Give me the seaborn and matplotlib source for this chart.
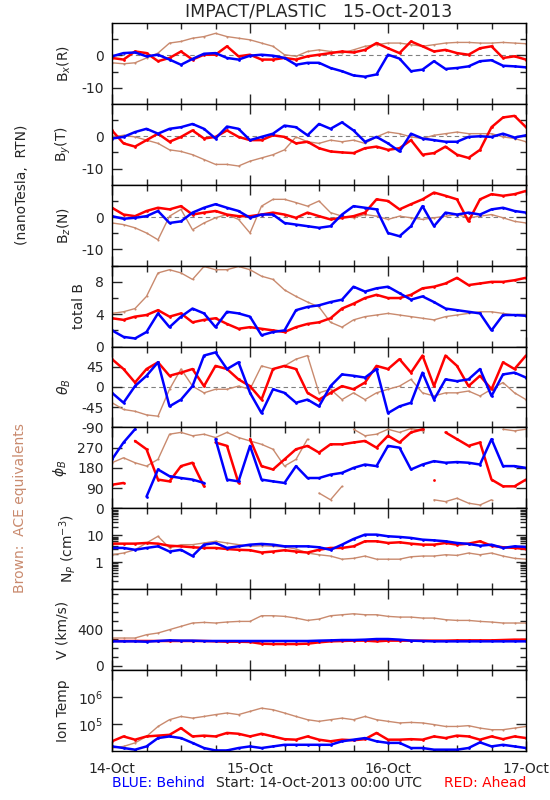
import matplotlib
matplotlib.use('Agg')
import numpy as np
import pandas as pd
import matplotlib.pyplot as plt
import seaborn as sns
from matplotlib.ticker import FixedLocator, NullFormatter, LogLocator

# hours since 14-Oct-2013 00:00, every 2 hours
hours = list(range(0, 73, 2))

# B_x (R), nT
bx_blue = [-0.3, 0.7, 0.9, -0.3, 0.2, -1.3, -2.9, -1.1, 0.5, 0.7, -0.8, -1.3, -0.1, 0.2, -0.1, -0.8, -2.9, -2.3, -2.3,
           -3.9, -4.9, -6.2, -6.6, -5.9, 0.2, -1.0, -4.9, -4.4, -1.8, -4.2, -3.9, -3.4, -1.8, -1.5, -3.2, -3.4, -3.7]
bx_red = [-0.8, -1.3, 1.2, 0.7, -1.8, -0.8, 1.2, -1.3, 0.2, 0.2, 2.8, -0.3, 0.2, -1.3, -1.3, -0.8, -1.3, -0.3, 0.2,
          0.7, 1.2, 0.9, 1.7, 3.8, 2.2, 0.7, 4.3, 2.8, 1.2, 1.7, 0.7, 0.2, 2.2, 2.8, -0.8, -0.3, -1.3]
bx_ace = [-2.3, -2.6, -2.3, -0.8, 0.7, 3.8, 4.3, 5.3, 5.8, 6.8, 5.8, 5.3, 4.8, 3.8, 2.8, 0.2, -0.3, 1.2, 1.7,
          1.2, 0.7, 1.7, 2.8, 3.3, 3.8, 3.8, 3.3, 2.8, 3.3, 3.8, 4.0, 4.0, 3.8, 3.8, 4.0, 3.8, 3.6]

# B_y (T), nT
by_blue = [-0.7, -0.2, 1.3, 2.3, 0.8, 2.3, 2.8, 3.8, 2.3, -0.7, 3.0, 2.3, -1.2, -0.2, 0.8, 3.3, 2.8, 0.3, 3.8,
           2.3, 4.3, 1.8, -1.7, -0.2, -2.2, -4.7, 0.8, -0.7, -1.2, -1.7, -1.7, -0.2, 0.0, -0.2, 0.8, -0.4, 0.3]
by_red = [1.8, -2.2, -3.2, -1.2, 0.8, -1.7, -0.2, 1.8, -0.7, -0.2, 1.8, -0.2, -1.2, -1.2, 0.3, -0.2, -2.2, -1.7, -3.7,
          -4.7, -5.0, -5.2, -3.7, -3.2, -4.2, -3.7, -1.2, -5.7, -5.2, -3.2, -5.7, -6.7, -4.2, 2.8, 5.8, 6.3, 2.8]
by_ace = [-0.2, 0.3, -0.2, -1.2, -2.2, -4.2, -4.7, -5.7, -7.2, -8.7, -8.7, -9.2, -7.7, -6.7, -5.7, -4.2, -0.2, -1.7, -2.2,
          -1.2, -1.7, -1.2, -2.2, -0.2, 1.3, 0.8, -0.2, -0.7, 0.3, 0.8, 1.3, 0.8, 0.8, 0.8, -0.2, -0.7, -1.7]

# B_z (N), nT
bz_blue = [0.3, -0.5, -0.2, 0.3, 1.9, -1.8, -1.3, 1.4, 2.9, 4.0, 2.9, 1.9, -0.2, 0.8, 0.8, -1.8, -2.3, -2.8, -3.3,
           -2.8, 0.8, 3.4, 2.9, 2.4, -4.9, -5.9, -2.8, 3.4, -2.8, 1.4, 0.8, 1.4, 0.8, 2.4, 2.9, 1.9, 1.4]
bz_red = [2.9, 0.8, 0.3, 1.9, 2.9, 2.4, 3.4, 0.8, 1.4, 1.9, 0.8, 0.3, 0.3, 0.8, 1.4, 0.8, -0.2, 1.4, 0.3,
          -0.7, -0.2, 0.3, 1.4, 5.5, 5.0, 2.4, 4.0, 5.5, 7.6, 6.6, 5.5, -1.3, 5.5, 7.1, 6.6, 7.1, 8.1]
bz_ace = [-1.8, -2.3, -3.3, -4.9, -7.0, 0.3, 2.4, -3.9, -1.8, -0.2, 0.8, -0.7, -4.9, 3.4, 5.5, 5.5, 4.5, 3.4, 5.0,
          1.4, 0.3, -0.2, 0.8, 0.3, -0.7, 0.3, -0.2, -0.7, -0.2, 0.3, 0.8, -0.2, 0.3, 0.8, -0.2, -1.3, -1.8]

# total B, nT
bt_blue = [2.0, 1.2, 1.0, 1.8, 4.1, 2.4, 3.7, 4.7, 4.1, 2.4, 4.3, 4.1, 3.7, 1.4, 1.8, 2.0, 4.5, 4.9, 5.1,
           5.5, 5.8, 7.4, 6.8, 7.2, 7.4, 6.6, 5.8, 6.2, 5.5, 4.7, 4.5, 4.3, 4.1, 2.0, 3.9, 3.9, 3.8]
bt_red = [3.5, 3.3, 3.7, 3.9, 4.5, 3.7, 4.1, 3.0, 3.3, 3.5, 2.8, 2.2, 2.4, 2.2, 2.0, 1.8, 2.4, 2.8, 3.0,
          3.5, 4.7, 5.3, 6.0, 6.4, 6.0, 6.0, 6.4, 7.2, 7.4, 7.8, 8.5, 7.6, 7.8, 8.0, 8.0, 8.2, 8.5]
bt_ace = [4.1, 4.3, 4.7, 6.2, 9.1, 9.5, 9.1, 8.3, 9.9, 9.5, 9.5, 9.9, 9.5, 8.7, 8.3, 7.0, 6.2, 5.5, 4.9,
          3.0, 2.4, 3.3, 3.7, 3.9, 4.1, 3.9, 3.7, 3.5, 3.3, 3.7, 3.9, 4.1, 4.3, 4.3, 4.1, 3.9, 3.9]

# theta_B, deg
th_blue = [-13, -35, 2, 25, 55, -43, -28, 2, 70, 77, 40, 55, -13, -58, -5, -13, -35, -28, -43,
           2, 28, 25, 21, 40, -58, -43, -35, 32, -28, 17, 13, 17, 40, -20, 28, 32, 21]
th_red = [62, 40, 10, 40, 55, 25, 32, 40, 2, 47, 40, 17, 2, -28, 40, 47, 40, -13, -28,
          -13, 2, -5, 10, 47, 40, 62, 32, 70, 2, 70, 47, 2, 25, -5, 55, 40, 70]
th_ace = [-35, -50, -54, -62, -65, -5, 40, 2, -13, -5, -5, 2, -5, 47, 40, 47, 62, 70, -13,
          -5, -28, -13, -28, -13, -5, 2, 17, -13, -20, -13, -13, -9, -20, -5, 10, -13, -28]

# phi_B, deg
ph_blue = [218, 293, 352, 52, 173, 143, 135, 128, 113, 308, 128, 120, 278, 128, 120, 113, 188, 135, 135,
           150, 158, 180, 195, 188, 278, 270, 173, 195, 210, 203, 206, 203, 195, 308, 188, 188, 180]
ph_red = [105, 113, 300, 263, 128, 120, 188, 203, 98, 293, 278, 113, 308, 188, 173, 218, 263, 278, 248,
          285, 285, 293, 300, 270, 323, 293, 338, 352, 128, 338, 308, 278, 293, 128, 98, 98, 128]
ph_ace = [203, 225, 203, 188, 218, 330, 338, 323, 330, 315, 338, 315, 300, 285, 263, 188, 218, 308, 68,
          38, 98, 352, 323, 330, 352, 338, 355, 345, 38, 30, 45, 23, 15, 38, 352, 345, 352]

# proton density, cm^-3
np_blue = [3.4, 3.4, 2.9, 3.4, 3.9, 2.5, 2.9, 1.7, 4.5, 5.2, 3.4, 3.9, 4.5, 4.8, 4.5, 3.9, 3.9, 3.9, 3.6,
           2.9, 4.5, 7.3, 10.6, 10.6, 9.2, 8.7, 8.0, 6.9, 6.5, 6.0, 5.2, 4.8, 4.1, 4.5, 3.4, 3.9, 3.7]
np_red = [4.9, 4.9, 4.9, 5.2, 4.9, 4.1, 3.9, 3.6, 3.4, 3.4, 3.1, 2.9, 2.8, 2.3, 2.5, 2.8, 2.5, 2.3, 2.9,
          3.4, 3.4, 3.9, 6.0, 6.0, 5.2, 5.5, 4.9, 4.5, 4.5, 5.2, 4.5, 4.9, 6.0, 4.1, 3.6, 3.4, 3.1]
np_ace = [1.9, 2.2, 2.9, 5.2, 9.2, 3.4, 4.5, 4.5, 5.2, 6.0, 5.2, 4.5, 3.9, 4.1, 3.9, 3.7, 3.1, 2.2, 1.9,
          1.7, 1.3, 1.4, 1.7, 1.3, 1.3, 1.3, 1.6, 1.7, 1.7, 1.9, 1.8, 2.2, 1.9, 2.2, 1.7, 1.4, 1.3]

# bulk speed, km/s
v_blue = [270, 270, 270, 266, 274, 281, 278, 278, 274, 274, 274, 274, 274, 274, 274, 274, 274, 274, 278,
          281, 285, 285, 289, 296, 296, 289, 278, 274, 270, 270, 270, 270, 270, 270, 270, 270, 270]
v_red = [274, 274, 274, 274, 274, 274, 274, 274, 274, 270, 266, 266, 263, 244, 240, 240, 240, 244, 259,
         270, 274, 278, 278, 270, 278, 278, 278, 278, 278, 278, 281, 281, 281, 281, 285, 289, 289]
v_ace = [307, 307, 307, 344, 363, 400, 437, 474, 481, 474, 485, 492, 492, 555, 555, 548, 529, 503, 518,
         555, 566, 577, 566, 566, 548, 540, 540, 529, 529, 511, 503, 503, 492, 485, 474, 474, 474]

# ion temperature, K
t_blue = [14800, 12900, 11200, 14800, 30200, 34700, 30200, 20000, 12900, 10500, 10500, 12900, 14800, 12900, 14800,
          17000, 17000, 17000, 17000, 17000, 22900, 26300, 30200, 22900, 20000, 20000, 12900, 12900, 11200, 11200,
          11200, 12900, 20900, 14800, 17000, 14800, 12900]
t_red = [22900, 34700, 26300, 34700, 37200, 39800, 70800, 34700, 37200, 34700, 46800, 43600, 34700, 43600, 34700,
         27500, 26300, 34700, 26300, 22900, 26300, 25100, 27500, 46800, 26300, 26300, 27500, 26300, 34700, 30200,
         37200, 34700, 26300, 34700, 27500, 34700, 30200]
t_ace = [12900, 14800, 20000, 34700, 81300, 145000, 191000, 166000, 191000, 224000, 257000, 224000, 295000, 389000,
         339000, 257000, 191000, 145000, 126000, 145000, 166000, 145000, 191000, 145000, 126000, 110000, 115000,
         110000, 95500, 81300, 81300, 87100, 70800, 61700, 61700, 70800, 81300]

day_labels = ['14-Oct', '15-Oct', '16-Oct', '17-Oct']

BLUE = '#0000ff'
RED = '#ff0000'
ACE = '#c98a6e'

sns.set_style('ticks')
plt.rcParams['font.family'] = ['DejaVu Sans']
plt.rcParams['font.size'] = 10

fig, axes = plt.subplots(9, 1, figsize=(5.5, 8), dpi=100, sharex=True)
fig.subplots_adjust(left=112 / 550, right=526 / 550, top=1 - 23 / 800, bottom=1 - 751 / 800, hspace=0)

panels = [
    (bx_blue, bx_red, bx_ace, 'B$_x$(R)', (-15, 10), [-10, 0], [-5, 5], 'lin'),
    (by_blue, by_red, by_ace, 'B$_y$(T)', (-15, 10), [-10, 0], [-5, 5], 'lin'),
    (bz_blue, bz_red, bz_ace, 'B$_z$(N)', (-15, 10), [-10, 0], [-5, 5], 'lin'),
    (bt_blue, bt_red, bt_ace, 'total B', (0, 10), [0, 4, 8], [2, 6, 10], 'lin'),
    (th_blue, th_red, th_ace, r'$\theta_B$', (-90, 90), [-90, -45, 0, 45], [], 'lin'),
    (ph_blue, ph_red, ph_ace, r'$\phi_B$', (0, 360), [0, 90, 180, 270], [], 'lin'),
    (np_blue, np_red, np_ace, 'N$_P$ (cm$^{-3}$)', (0.1, 100), [1, 10], None, 'log'),
    (v_blue, v_red, v_ace, 'V (km/s)', (-50, 850), [0, 400], [100, 200, 300, 500, 600, 700, 800], 'lin'),
    (t_blue, t_red, t_ace, 'Ion Temp', (1e4, 1e7), [1e5, 1e6], [], 'log'),
]


def wrap_segments(vals, is_angle):
    # phi wraps around 0/360: start a new line piece at each wrap
    if not is_angle:
        return np.zeros(len(vals), dtype=int)
    jumps = np.abs(np.diff(vals)) > 180
    return np.concatenate([[0], np.cumsum(jumps)])


for i, (ax, (blue, red, ace, label, ylim, major, minor, scale)) in enumerate(zip(axes, panels)):
    is_phi = i == 5
    df = pd.DataFrame({'hour': hours, 'blue': blue, 'red': red, 'ace': ace,
                       'seg_b': wrap_segments(blue, is_phi), 'seg_r': wrap_segments(red, is_phi),
                       'seg_a': wrap_segments(ace, is_phi)})
    if i in (0, 1, 2, 4):
        ax.axhline(0, color='gray', lw=0.8, ls=(0, (4, 3)), zorder=0)
    sns.lineplot(data=df, x='hour', y='ace', units='seg_a', ax=ax, color=ACE, lw=1.0, marker='.',
                 markersize=3, markeredgewidth=0, estimator=None)
    sns.lineplot(data=df, x='hour', y='red', units='seg_r', ax=ax, color=RED, lw=1.8, marker='.',
                 markersize=4, markeredgewidth=0, estimator=None)
    sns.lineplot(data=df, x='hour', y='blue', units='seg_b', ax=ax, color=BLUE, lw=1.8, marker='.',
                 markersize=4, markeredgewidth=0, estimator=None)

    if scale == 'log':
        ax.set_yscale('log')
    ax.set_ylim(*ylim)
    ax.yaxis.set_major_locator(FixedLocator(major))
    if scale == 'log':
        if label.startswith('Ion'):
            ax.set_yticklabels(['10$^5$', '10$^6$'])
            ax.yaxis.set_minor_locator(FixedLocator([]))
        else:
            ax.set_yticklabels(['1', '10'])
            ax.yaxis.set_minor_locator(LogLocator(base=10, subs=np.arange(2, 10)))
            ax.yaxis.set_minor_formatter(NullFormatter())
    else:
        ax.set_yticklabels([str(v) for v in major])
        ax.yaxis.set_minor_locator(FixedLocator(minor))

    ax.set_xlim(0, 72)
    ax.xaxis.set_major_locator(FixedLocator([0, 24, 48, 72]))
    ax.xaxis.set_minor_locator(FixedLocator([6, 12, 18, 30, 36, 42, 54, 60, 66]))
    ax.tick_params(which='both', direction='in', top=True, right=True, width=1, labelsize=10)
    ax.tick_params(which='major', length=7, pad=6)
    ax.tick_params(which='minor', length=4)
    for s in ax.spines.values():
        s.set_linewidth(1)
        s.set_color('black')
    ax.set_ylabel(label, fontsize=10, labelpad=6)
    ax.set_xlabel('')

axes[-1].set_xticklabels(day_labels)
axes[-1].tick_params(axis='x', pad=8)

fig.text(319 / 550, 1 - 12 / 800, 'IMPACT/PLASTIC   15-Oct-2013', ha='center', va='center', fontsize=12.5)
fig.text(22 / 550, 1 - 185 / 800, '(nanoTesla,  RTN)', rotation=90, ha='center', va='center', fontsize=10)
fig.text(20 / 550, 1 - 508 / 800, 'Brown:  ACE equivalents', rotation=90, ha='center', va='center',
         fontsize=10, color=ACE)
fig.text(112 / 550, 1 - 783 / 800, 'BLUE: Behind', ha='left', va='center', fontsize=10, color=BLUE)
fig.text(319 / 550, 1 - 783 / 800, 'Start: 14-Oct-2013 00:00 UTC', ha='center', va='center', fontsize=10)
fig.text(526 / 550, 1 - 783 / 800, 'RED: Ahead', ha='right', va='center', fontsize=10, color=RED)

fig.savefig('out.png', dpi=100)
